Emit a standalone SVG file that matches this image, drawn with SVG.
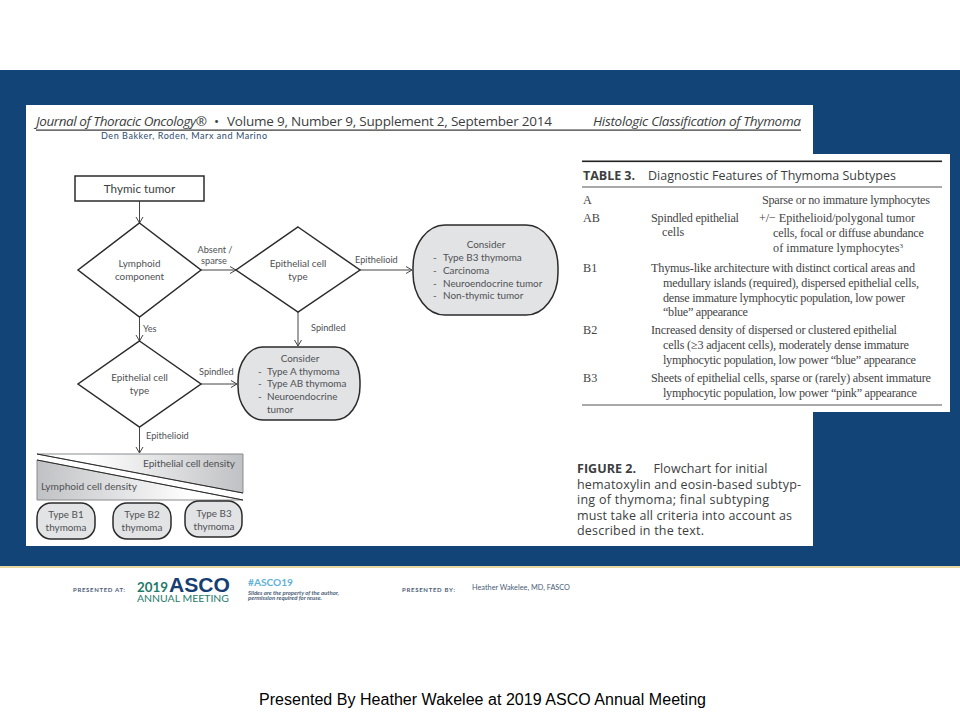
<svg xmlns="http://www.w3.org/2000/svg" width="960" height="720" viewBox="0 0 960 720">
<style>
.f{font-family:Lato,"Open Sans","Liberation Sans",sans-serif;fill:#4f5154}
.n{font-size:9.900px}
.l{font-size:9.200px}
.h{font-family:"Open Sans","Liberation Sans",sans-serif;font-size:13.500px;fill:#3c3e40}
.i{font-style:italic}
.t{font-family:"Liberation Serif","Times New Roman",serif;font-size:12.200px;fill:#444}
.c{font-family:"Open Sans","Liberation Sans",sans-serif;font-size:12.500px;fill:#3c3e40}
.shape{stroke:#2b2b2b;stroke-width:1.500;fill:#fff}
.grey{stroke:#2b2b2b;stroke-width:1.500;fill:#e2e3e5}
.ln{stroke:#444;stroke-width:1;fill:none;marker-end:url(#a)}
.m{text-anchor:middle}
.ft{font-family:Lato,"Liberation Sans",sans-serif}
</style>
<defs>
<marker id="a" markerUnits="userSpaceOnUse" markerWidth="10" markerHeight="10" refX="7" refY="4" orient="auto"><path d="M1,0.5 L7,4 L1,7.5" fill="none" stroke="#444" stroke-width="1"/></marker>
<linearGradient id="g1" x1="0" x2="1" y1="0" y2="0"><stop offset="0.25" stop-color="#fff"/><stop offset="1" stop-color="#c0c1c4"/></linearGradient>
<linearGradient id="g2" x1="0" x2="1" y1="0" y2="0"><stop offset="0" stop-color="#c0c1c4"/><stop offset="0.75" stop-color="#fff"/></linearGradient>
</defs>
<rect width="960" height="720" fill="#fff"/>
<rect id="band" x="0" y="70" width="960" height="496" fill="#124478"/>
<rect x="0" y="566" width="960" height="2" fill="#e9d9a0"/>
<rect id="panel" x="26" y="105" width="787" height="441" fill="#fff"/>
<rect id="table-panel" x="570" y="154" width="380" height="258" fill="#fff"/>

<g id="header">
<text class="h i" x="36" y="125.500" textLength="171">Journal of Thoracic Oncology®</text>
<text class="h" x="214" y="125.500">•</text>
<text class="h" x="227" y="125.500" textLength="325">Volume 9, Number 9, Supplement 2, September 2014</text>
<text class="h i" x="593" y="125.500" textLength="208">Histologic Classification of Thymoma</text>
<rect x="36" y="129.500" width="765" height="1.200" fill="#333"/>
<text class="f" x="101" y="138.500" style="fill:#2c4a6e;font-size:9px" textLength="166">Den Bakker, Roden, Marx and Marino</text>
</g>

<g id="connectors">
<path class="ln" d="M139.500,201V223"/>
<path class="ln" d="M201,270H236"/>
<path class="ln" d="M360,270H412"/>
<path class="ln" d="M139.500,317V341"/>
<path class="ln" d="M298,312V346"/>
<path class="ln" d="M201,384H237"/>
<path class="ln" d="M139.500,427V453"/>
</g>

<g id="edge-labels">
<text class="f l m" x="215" y="253">Absent /</text>
<text class="f l m" x="214" y="264">sparse</text>
<text class="f l" x="143" y="332">Yes</text>
<text class="f l" x="355" y="263">Epithelioid</text>
<text class="f l" x="311" y="331">Spindled</text>
<text class="f l" x="199" y="375">Spindled</text>
<text class="f l" x="146" y="439">Epithelioid</text>
</g>

<g id="n-thymic"><rect class="shape" x="75" y="176" width="129" height="25"/><text class="f m" x="139.500" y="193" style="font-size:11.700px;fill:#3c3e40">Thymic tumor</text></g>
<g id="n-lymphoid"><polygon class="shape" points="139.500,223 201,270 139.500,317 78,270"/><text class="f n m" x="139.500" y="267">Lymphoid</text><text class="f n m" x="139.500" y="280">component</text></g>
<g id="n-epi1"><polygon class="shape" points="298,227 360,270 298,312 236,270"/><text class="f n m" x="298" y="267">Epithelial cell</text><text class="f n m" x="298" y="280">type</text></g>
<g id="n-epi2"><polygon class="shape" points="139.500,341 201,384 139.500,427 78,384"/><text class="f n m" x="139.500" y="381">Epithelial cell</text><text class="f n m" x="139.500" y="394">type</text></g>

<g id="n-consider1"><rect class="grey" x="413" y="225" width="145" height="90" rx="32" ry="42"/>
<text class="f n m" x="486" y="248">Consider</text>
<text class="f n" x="433" y="261">-</text><text class="f n" x="443" y="261">Type B3 thymoma</text>
<text class="f n" x="433" y="274">-</text><text class="f n" x="443" y="274">Carcinoma</text>
<text class="f n" x="433" y="287">-</text><text class="f n" x="443" y="287">Neuroendocrine tumor</text>
<text class="f n" x="433" y="299">-</text><text class="f n" x="443" y="299">Non-thymic tumor</text></g>

<g id="n-consider2"><rect class="grey" x="238" y="347" width="122" height="73" rx="25" ry="34"/>
<text class="f n m" x="300" y="362">Consider</text>
<text class="f n" x="258" y="375">-</text><text class="f n" x="267" y="375">Type A thymoma</text>
<text class="f n" x="258" y="387">-</text><text class="f n" x="267" y="387">Type AB thymoma</text>
<text class="f n" x="258" y="400">-</text><text class="f n" x="267" y="400">Neuroendocrine</text>
<text class="f n" x="267" y="413">tumor</text></g>

<g id="density">
<polygon points="37,454 243,454 243,493" fill="url(#g1)" stroke="#8a8b8d" stroke-width="1"/>
<polygon points="37,460 243,500 37,500" fill="url(#g2)" stroke="#8a8b8d" stroke-width="1"/>
<path d="M37,454 L243,493 M37,460 L243,500" stroke="#2b2b2b" stroke-width="1" fill="none"/>
<text class="f" x="143" y="467" style="font-size:10.200px" textLength="92">Epithelial cell density</text>
<text class="f" x="41" y="490" style="font-size:10.200px" textLength="96">Lymphoid cell density</text>
</g>

<g id="n-b1"><rect class="grey" x="37" y="503" width="58" height="36" rx="14" ry="14"/><text class="f n m" x="66" y="518">Type B1</text><text class="f n m" x="66" y="531">thymoma</text></g>
<g id="n-b2"><rect class="grey" x="113" y="503" width="58" height="36" rx="14" ry="14"/><text class="f n m" x="142" y="518">Type B2</text><text class="f n m" x="142" y="531">thymoma</text></g>
<g id="n-b3"><rect class="grey" x="185" y="501" width="57" height="36" rx="14" ry="14"/><text class="f n m" x="214" y="517">Type B3</text><text class="f n m" x="214" y="530">thymoma</text></g>

<g id="table">
<rect x="582" y="160.500" width="360" height="1.600" fill="#222"/>
<text class="c" x="583" y="180" style="font-weight:700;font-size:12.500px" textLength="52">TABLE 3.</text>
<text class="c" x="648" y="180" style="font-size:12.500px" textLength="248">Diagnostic Features of Thymoma Subtypes</text>
<rect x="582" y="186.500" width="360" height="1" fill="#555"/>
<text class="t" x="583" y="204">A</text>
<text class="t" x="762" y="204" textLength="168">Sparse or no immature lymphocytes</text>
<text class="t" x="583" y="222">AB</text>
<text class="t" x="651" y="222" textLength="88">Spindled epithelial</text>
<text class="t" x="662" y="236">cells</text>
<text class="t" x="759" y="222" textLength="156">+/− Epithelioid/polygonal tumor</text>
<text class="t" x="773" y="237" textLength="151">cells, focal or diffuse abundance</text>
<text class="t" x="773" y="252" textLength="130">of immature lymphocytes<tspan font-size="7" dy="-4">3</tspan></text>
<text class="t" x="583" y="272">B1</text>
<text class="t" x="651" y="272" textLength="264">Thymus-like architecture with distinct cortical areas and</text>
<text class="t" x="663" y="287" textLength="256">medullary islands (required), dispersed epithelial cells,</text>
<text class="t" x="663" y="302" textLength="242">dense immature lymphocytic population, low power</text>
<text class="t" x="663" y="316" textLength="85">“blue” appearance</text>
<text class="t" x="583" y="334">B2</text>
<text class="t" x="651" y="334" textLength="246">Increased density of dispersed or clustered epithelial</text>
<text class="t" x="663" y="349" textLength="246">cells (≥3 adjacent cells), moderately dense immature</text>
<text class="t" x="663" y="364" textLength="253">lymphocytic population, low power “blue” appearance</text>
<text class="t" x="583" y="382">B3</text>
<text class="t" x="651" y="382" textLength="280">Sheets of epithelial cells, sparse or (rarely) absent immature</text>
<text class="t" x="663" y="397" textLength="254">lymphocytic population, low power “pink” appearance</text>
<rect x="582" y="404.500" width="360" height="1" fill="#555"/>
</g>

<g id="caption">
<text class="c" x="577" y="473" style="font-weight:700" textLength="59">FIGURE 2.</text>
<text class="c" x="653.500" y="473" textLength="114">Flowchart for initial</text>
<text class="c" x="577" y="489" textLength="224">hematoxylin and eosin-based subtyp-</text>
<text class="c" x="577" y="504" textLength="192">ing of thymoma; final subtyping</text>
<text class="c" x="577" y="520" textLength="215">must take all criteria into account as</text>
<text class="c" x="577" y="535" textLength="127">described in the text.</text>
</g>

<g id="footer">
<text class="ft" x="73" y="592" font-size="6" font-weight="700" fill="#4a5d78" textLength="52">PRESENTED AT:</text>
<text class="ft" x="137" y="592" font-size="14" font-weight="700" fill="#1f7a6b" textLength="31" lengthAdjust="spacingAndGlyphs">2019</text>
<text x="169" y="592" font-family="'Liberation Sans',sans-serif" font-size="21" font-weight="700" fill="#163e73" textLength="61" lengthAdjust="spacingAndGlyphs">ASCO</text>
<text class="ft" x="137" y="602" font-size="10" fill="#1f7a6b" textLength="92" lengthAdjust="spacingAndGlyphs">ANNUAL MEETING</text>
<text class="ft" x="248" y="586" font-size="10" font-weight="700" fill="#5fb2d8" textLength="45" lengthAdjust="spacingAndGlyphs">#ASCO19</text>
<text class="ft" x="248" y="595" font-size="5.500" font-style="italic" font-weight="700" fill="#4a5d78" textLength="91" lengthAdjust="spacingAndGlyphs">Slides are the property of the author,</text>
<text class="ft" x="248" y="600" font-size="5.500" font-style="italic" font-weight="700" fill="#4a5d78" textLength="74" lengthAdjust="spacingAndGlyphs">permission required for reuse.</text>
<text class="ft" x="402" y="592" font-size="6" font-weight="700" fill="#4a5d78" textLength="53">PRESENTED BY:</text>
<text class="ft" x="472" y="590" font-size="7" fill="#4a5d78" textLength="98" lengthAdjust="spacingAndGlyphs">Heather Wakelee, MD, FASCO</text>
</g>
<text id="credit" x="259" y="705" font-family="'Liberation Sans',Arial,sans-serif" font-size="16" fill="#000" textLength="447">Presented By Heather Wakelee at 2019 ASCO Annual Meeting</text>
</svg>
